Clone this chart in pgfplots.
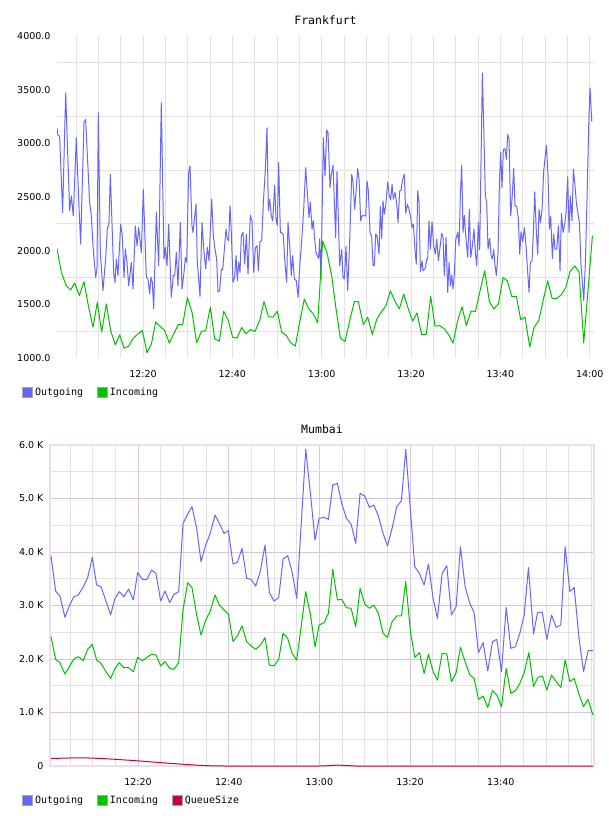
\documentclass[border=0pt]{standalone}
\usepackage{fontspec}
\setmainfont{DejaVu Sans}
\newfontfamily\monofont{DejaVu Sans Mono}
\usepackage{pgfplots}
\usepackage{pgfplotstable}
\pgfplotsset{compat=1.18}
\definecolor{outc}{HTML}{6666FF}
\definecolor{inc}{HTML}{00C000}
\definecolor{qc}{HTML}{CC0033}
\definecolor{gridg}{HTML}{E2E2E2}
\definecolor{gridp}{HTML}{DCC4DC}
\definecolor{bord}{HTML}{EEDDEE}

\pgfplotstableread{
m v
0.75 3145
0.97 3074
1.34 3067
2.01 2355
2.69 3470
3.58 2371
3.96 2510
4.40 2324
5.07 3052
5.60 2479
6.04 2061
6.79 3191
7.16 3222
8.06 2448
8.43 2324
8.81 2046
9.40 1752
9.70 1829
10.0 3284
10.45 1984
11.04 1628
11.64 1922
12.01 2200
12.39 2262
12.69 2711
13.43 1798
13.73 1705
14.03 1922
14.40 1767
15.00 2247
15.37 2139
15.75 1752
16.04 2015
16.42 1891
16.79 1674
17.39 1891
17.76 1643
18.28 2231
18.66 2046
19.03 2216
19.63 1984
20.07 2572
20.75 1752
21.12 1736
21.49 1597
21.79 1752
22.09 1705
22.39 1457
22.99 2355
23.51 1860
24.10 3377
24.70 1922
25.00 2030
25.37 1860
25.75 2247
26.34 1566
26.79 1767
27.09 1767
27.46 1984
27.84 1674
28.36 2262
28.73 1643
29.18 1798
29.48 1937
29.78 1891
30.22 2727
30.52 2789
30.97 2231
31.19 2170
31.87 2433
32.16 1891
32.76 1575
33.21 2262
33.66 1984
34.03 1829
34.40 2030
34.78 1906
35.37 2479
35.75 2139
36.12 2015
36.49 1922
36.79 1618
37.16 1628
37.54 1829
37.84 1823
38.28 2046
38.58 2200
38.88 2108
39.18 2092
39.48 2417
39.78 2170
40.15 1705
40.52 1752
40.82 1953
41.12 1721
41.42 1891
41.72 1798
42.01 2139
42.39 2170
42.76 1875
43.13 2154
43.51 1783
44.03 2330
44.40 2278
44.78 1798
45.15 2024
45.52 2046
45.82 1813
46.19 2083
46.57 2092
46.94 2448
47.39 2758
47.76 3145
48.06 2371
48.36 2479
48.73 2324
49.03 2278
49.48 2609
49.78 2293
50.07 2231
50.37 2820
50.75 2170
51.04 2170
51.42 2145
51.72 1922
52.16 1705
52.46 2262
52.84 2046
53.21 1767
53.51 1953
53.88 1736
54.33 1721
54.70 1566
55.15 1891
55.45 2046
55.97 2386
56.42 2773
56.79 2541
57.16 2309
57.46 2454
57.84 2200
58.13 2278
58.43 2108
58.73 1984
59.03 1953
59.33 1928
59.55 2108
59.85 1736
60.15 2479
60.37 3052
60.75 2696
61.12 3123
61.42 3098
61.87 2587
62.16 2711
62.54 2798
63.13 2123
63.43 2736
64.03 1860
64.48 2009
64.78 1752
65.07 1736
65.45 2039
65.82 1628
66.27 2092
66.72 2711
67.01 2634
67.39 2386
68.06 2764
68.36 2665
68.73 2278
69.10 2330
69.55 2324
69.85 2324
70.15 2649
70.45 2557
70.82 2170
71.19 2132
71.49 1860
71.79 1860
72.09 2154
72.39 2139
72.84 1968
73.13 2411
73.43 2114
73.73 2464
74.03 2340
74.33 2417
74.78 2640
75.15 2510
75.45 2473
75.75 2618
76.04 2479
76.42 2541
76.79 2442
77.09 2262
77.46 2557
77.76 2563
78.13 2665
78.51 2711
78.81 2349
79.18 2433
79.55 2386
79.93 2309
80.22 2216
80.52 2247
80.90 1999
81.19 1875
81.49 2557
81.79 2448
82.09 1804
82.46 1906
82.69 1813
83.13 1829
83.58 1928
83.73 1922
84.03 2278
84.33 2015
84.70 2269
85.07 2046
85.45 1968
85.75 2108
86.12 1906
86.49 2030
86.87 2163
87.16 2123
87.46 1767
87.84 2123
88.21 1612
88.51 1891
88.81 1674
89.10 1773
89.40 1643
89.70 1783
90.00 2100
90.45 2170
90.75 2046
91.04 2510
91.34 2795
91.64 2170
91.94 2330
92.24 2139
92.69 1937
93.06 2386
93.36 1937
93.73 2046
94.10 2200
94.40 1984
94.70 1860
95.07 2262
95.37 2009
95.97 3656
96.27 3160
96.64 2510
96.94 2448
97.24 2015
97.61 2114
97.91 1953
98.21 1922
98.51 2009
98.81 1860
99.10 1767
99.48 1984
99.78 2634
100.07 2919
100.37 2587
100.67 2944
101.04 2950
101.34 2851
101.64 3083
101.94 3036
102.31 2324
102.61 2479
102.99 2764
103.28 2417
103.66 2411
104.03 2293
104.33 1968
104.63 2176
105.00 2083
105.37 2216
105.75 2046
106.04 1844
106.42 1612
106.72 1891
107.09 1906
107.39 2170
107.69 2547
108.06 2170
108.36 1968
108.66 2386
108.96 2262
109.33 2386
109.70 2742
110.30 2981
110.67 2696
110.97 2200
111.27 2318
111.64 1928
111.94 2154
112.24 2015
112.61 2015
112.99 2231
113.36 1813
113.66 2349
114.03 2170
114.40 2247
114.70 2355
115.07 2690
115.37 2170
115.67 2510
116.04 2278
116.34 2758
116.64 2634
117.01 2448
117.39 2340
117.69 2262
118.06 1860
118.36 1705
118.66 1535
119.03 1891
119.40 2479
119.78 3176
120.07 3517
120.45 3207
120.60 3207
}\frOut

\pgfplotstableread{
m v
0.75 2021
1.72 1798
2.84 1674
3.81 1634
4.70 1699
5.75 1581
6.79 1711
7.69 1504
8.81 1287
9.78 1519
10.75 1241
11.79 1504
12.76 1256
13.81 1123
14.78 1216
15.75 1092
16.79 1111
17.84 1185
18.88 1225
19.85 1256
20.90 1049
21.87 1129
22.84 1334
23.88 1293
24.85 1256
25.90 1139
26.87 1225
27.91 1312
28.88 1309
29.93 1563
30.97 1426
32.01 1142
33.06 1247
34.03 1256
35.07 1473
36.04 1179
37.09 1157
38.06 1436
39.03 1358
40.07 1194
41.04 1185
42.09 1284
43.06 1225
44.10 1265
45.07 1247
46.12 1349
47.09 1526
48.06 1386
49.10 1380
50.07 1436
51.04 1241
52.09 1210
53.06 1142
54.10 1111
55.07 1334
56.12 1550
57.09 1457
58.13 1411
59.10 1327
60.22 2089
61.19 1981
62.24 1765
63.21 1457
64.18 1185
65.22 1154
66.19 1333
67.31 1525
68.21 1525
69.33 1309
70.30 1380
71.34 1219
72.31 1358
73.28 1426
74.40 1488
75.37 1626
76.34 1534
77.39 1457
78.36 1596
79.40 1457
80.37 1343
81.34 1420
82.39 1216
83.43 1222
84.40 1574
85.37 1296
86.42 1302
87.46 1272
88.43 1216
89.40 1139
90.45 1349
91.42 1478
92.39 1302
93.43 1438
94.40 1432
95.45 1626
96.49 1812
97.54 1525
98.51 1457
99.55 1503
100.60 1750
101.57 1719
102.54 1574
103.58 1574
104.55 1358
105.52 1380
106.57 1102
107.54 1287
108.58 1346
109.55 1534
110.60 1719
111.57 1556
112.61 1556
113.58 1586
114.63 1657
115.60 1805
116.64 1858
117.61 1802
118.66 1142
120.60 2139
}\frIn

\pgfplotstableread{
m v
0.81 3931
1.84 3271
2.79 3177
3.90 2779
4.85 2990
5.88 3165
6.84 3196
7.94 3352
8.90 3520
9.93 3900
10.88 3383
11.84 3352
12.94 3084
13.97 2822
14.93 3134
15.88 3258
16.91 3165
17.94 3308
18.97 3103
19.93 3613
20.96 3489
21.99 3489
23.01 3663
23.97 3601
25.00 3084
25.96 3271
26.99 3053
27.94 3208
28.97 3258
29.93 4535
30.96 4710
31.91 4847
32.94 4442
33.90 3819
34.93 4130
35.88 4336
36.99 4691
37.94 4535
38.97 4349
39.93 4398
40.96 3775
41.91 3807
42.94 4068
43.97 3507
44.93 3489
45.96 3364
46.99 3645
48.01 4130
48.97 3240
50.00 3084
51.03 3146
51.99 3869
53.01 3931
53.97 3632
55.00 3134
56.99 5919
58.09 5034
59.04 4224
59.93 4629
61.03 4648
61.99 4610
62.94 5252
63.97 5283
64.93 4909
65.96 4629
66.99 4523
68.01 4162
68.97 5096
70.00 5046
71.03 4834
71.99 4878
73.01 4672
74.04 4349
75.00 4112
76.03 4442
77.06 4847
78.09 4959
79.04 5919
80.07 4785
81.03 3726
82.06 3601
83.09 3383
84.04 3775
85.07 3134
86.03 2760
87.06 3601
88.09 3744
89.12 2822
90.15 2978
91.10 4099
92.13 3352
93.16 3040
94.12 2866
95.07 2118
96.10 2305
97.13 1776
98.16 2324
99.12 2367
100.15 1763
101.18 2965
102.21 2199
103.24 2230
104.19 2480
105.15 2822
106.10 3707
107.21 2467
108.09 2866
109.12 2878
110.15 2367
111.18 2822
112.21 2592
113.24 2635
114.19 4099
115.22 3258
116.18 3339
117.21 2417
118.24 1763
119.26 2156
120.29 2156
}\muOut

\pgfplotstableread{
m v
0.81 2417
1.84 1994
2.79 1931
3.90 1719
4.85 1857
5.88 2000
6.84 2043
7.94 1969
8.90 2181
9.93 2274
10.88 1981
11.84 1919
12.94 1763
13.97 1638
14.93 1825
15.88 1931
16.91 1838
17.94 1838
18.97 1763
19.93 2031
20.96 1969
21.99 2031
23.01 2087
23.97 2075
25.00 1869
25.96 1950
26.99 1825
27.94 1807
28.97 1931
29.93 2916
30.96 3427
31.91 3333
32.94 2822
33.90 2448
34.93 2729
35.88 2884
36.99 3196
37.94 3009
38.97 2916
39.93 2841
40.96 2324
41.91 2430
42.94 2617
43.97 2324
44.93 2243
45.96 2181
46.99 2261
48.01 2399
48.97 1888
50.00 1869
51.03 1994
51.99 2480
53.01 2386
53.97 2106
55.00 1981
56.99 3258
58.09 2791
59.04 2230
59.93 2635
61.03 2679
61.99 2853
62.94 3676
63.97 3103
64.93 3115
65.96 2959
66.99 2947
68.01 2604
68.97 3321
70.00 3028
71.03 2947
71.99 3009
73.01 2853
74.04 2480
75.00 2405
76.03 2698
77.06 2804
78.09 2804
79.04 3445
80.07 2511
81.03 2031
82.06 2118
83.09 1732
84.04 2093
85.07 1763
86.03 1607
87.06 2106
88.09 2093
89.12 1576
90.15 1744
91.10 2218
92.13 1950
93.16 1701
94.12 1638
95.07 1246
96.10 1308
97.13 1096
98.16 1408
99.12 1327
100.15 1109
101.18 1825
102.21 1358
103.24 1408
104.19 1545
105.15 1744
106.18 2118
107.21 1483
108.16 1657
109.19 1682
110.15 1420
111.18 1701
112.21 1576
113.24 1470
114.19 1981
115.22 1576
116.18 1638
117.21 1346
118.24 1109
119.26 1246
120.29 953
}\muIn

\pgfplotstableread{
m v
0.81 140
3 145
6 152
9 150
12 140
15 125
18 108
21 90
24 70
27 50
30 32
33 15
36 4
39 0
60 0
62 6
64 18
66 8
68 0
120.29 0
}\muQ

\pgfplotsset{
  common/.style={
    scale only axis, anchor=south west,
    tick style={draw=none},
    ticklabel style={font=\fontsize{9.5}{11}\selectfont},
    xticklabel style={yshift=-8.5pt},
    yticklabel style={xshift=-3pt},
    legend columns=-1,
    legend image code/.code={\draw[#1,fill,draw=gray!70,line width=0.8pt,solid] (0pt,-5pt) rectangle (10pt,5pt);},
    legend style={draw=none, fill=none, inner sep=0pt,
      font=\monofont\fontsize{10}{12}\selectfont,
      at={(0,0)}, anchor=west, nodes={inner sep=2pt},
      /tikz/every even column/.append style={column sep=12pt}},
    title style={font=\monofont\fontsize{11.5}{13}\selectfont, at={(0.5,1)}, anchor=base, yshift=5pt},
    every axis plot/.append style={line width=1pt, line join=round},
  }
}

\begin{document}
\begin{tikzpicture}
\path[use as bounding box] (0pt,0pt) rectangle (608pt,816pt);

\begin{axis}[common, at={(57pt,458pt)}, width=537pt, height=322pt,
  xmin=0.75, xmax=120.96, ymin=1000, ymax=4000,
  axis line style={draw=none},
  xtick={20,40,60,80,100,120},
  xticklabels={12:20,12:40,13:00,13:20,13:40,14:00},
  minor xtick={5,10,15,25,30,35,45,50,55,65,70,75,85,90,95,105,110,115},
  xmajorgrids, xminorgrids,
  ytick={1000,1500,2000,2500,3000,3500,4000},
  yticklabels={1000.0,1500.0,2000.0,2500.0,3000.0,3500.0,4000.0},
  minor ytick={1250,1750,2250,2750,3250,3750}, yminorgrids,
  major grid style={gridg, line width=0.8pt},
  minor grid style={gridg, line width=0.8pt},
  title={Frankfurt},
  legend style={xshift=-35pt, yshift=-34pt},
]
\addplot[color=outc] table[x=m,y=v] {\frOut};
\addlegendentry{Outgoing}
\addplot[color=inc] table[x=m,y=v] {\frIn};
\addlegendentry{Incoming}
\end{axis}

\begin{axis}[common, at={(50pt,50pt)}, width=544pt, height=321pt,
  xmin=0.6, xmax=120.55, ymin=0, ymax=6000,
  axis line style={draw=bord, line width=1.3pt},
  xtick={20,40,60,80,100},
  xticklabels={12:20,12:40,13:00,13:20,13:40},
  minor xtick={5,10,15,25,30,35,45,50,55,65,70,75,85,90,95,105,110,115,120},
  xmajorgrids, xminorgrids,
  ytick={0,1000,2000,3000,4000,5000,6000},
  yticklabels={0,1.0 K,2.0 K,3.0 K,4.0 K,5.0 K,6.0 K},
  minor ytick={500,1500,2500,3500,4500,5500},
  ymajorgrids, yminorgrids,
  major grid style={gridp, line width=0.8pt},
  minor grid style={gridg, line width=0.8pt},
  title={Mumbai},
  title style={yshift=1pt},
  legend style={xshift=-28pt, yshift=-34pt},
]
\addplot[color=outc] table[x=m,y=v] {\muOut};
\addlegendentry{Outgoing}
\addplot[color=inc] table[x=m,y=v] {\muIn};
\addlegendentry{Incoming}
\addplot[color=qc] table[x=m,y=v] {\muQ};
\addlegendentry{QueueSize}
\end{axis}
\end{tikzpicture}
\end{document}
